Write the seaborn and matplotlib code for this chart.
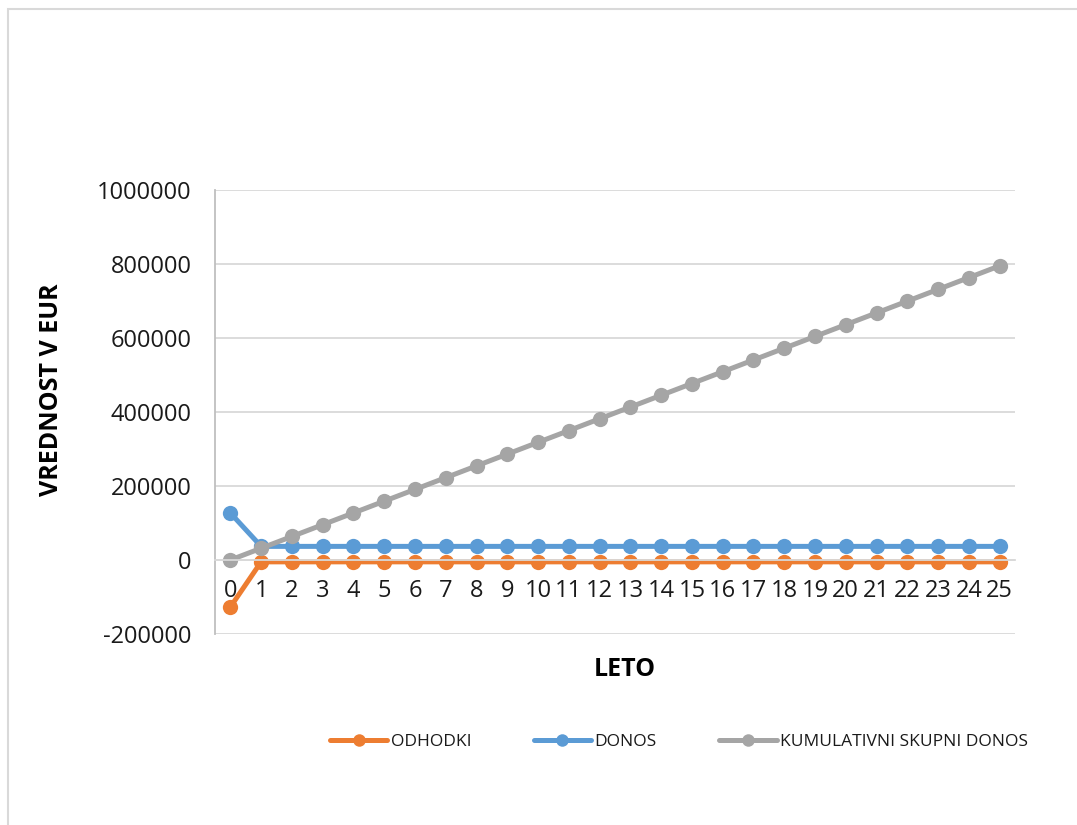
import matplotlib
matplotlib.use("Agg")
import matplotlib.pyplot as plt
import seaborn as sns
import pandas as pd
from matplotlib.lines import Line2D
from matplotlib.patches import Rectangle

years = [0, 1, 2, 3, 4, 5, 6, 7, 8, 9, 10, 11, 12, 13, 14, 15, 16, 17, 18, 19, 20, 21, 22, 23, 24, 25]
odhodki = [-127000, -5000, -5000, -5000, -5000, -5000, -5000, -5000, -5000, -5000, -5000, -5000, -5000,
           -5000, -5000, -5000, -5000, -5000, -5000, -5000, -5000, -5000, -5000, -5000, -5000, -5000]
donos = [127000, 36800, 36800, 36800, 36800, 36800, 36800, 36800, 36800, 36800, 36800, 36800, 36800,
         36800, 36800, 36800, 36800, 36800, 36800, 36800, 36800, 36800, 36800, 36800, 36800, 36800]
kumulativni = [0, 31800, 63600, 95400, 127200, 159000, 190800, 222600, 254400, 286200, 318000, 349800,
               381600, 413400, 445200, 477000, 508800, 540600, 572400, 604200, 636000, 667800, 699600,
               731400, 763200, 795000]
series_names = ["ODHODKI", "DONOS", "KUMULATIVNI SKUPNI DONOS"]
colors = ["#ED7D31", "#5B9BD5", "#A5A5A5"]
y_ticks = [-200000, 0, 200000, 400000, 600000, 800000, 1000000]

rows = []
for name, vals in zip(series_names, [odhodki, donos, kumulativni]):
    for x, v in zip(years, vals):
        rows.append({"Leto": x, "Vrednost": v, "Serija": name})
df = pd.DataFrame(rows)

sns.set_style("white")
plt.rcParams["font.family"] = ["Open Sans", "DejaVu Sans"]

fig = plt.figure(figsize=(10.77, 8.25), dpi=100)
ax = fig.add_axes([215 / 1077, 1 - 634 / 825, 800 / 1077, 444 / 825])

sns.lineplot(data=df, x="Leto", y="Vrednost", hue="Serija", hue_order=series_names,
             palette=colors, marker="o", markersize=11, markeredgewidth=0, linewidth=3.6,
             ax=ax, legend=False)

ax.set_xlim(-0.5, 25.5)
ax.set_ylim(-200000, 1000000)
ax.set_yticks(y_ticks)
ax.set_yticklabels([str(t) for t in y_ticks])
ax.set_xticks(years)
ax.set_xticklabels([str(y) for y in years])
ax.yaxis.grid(True, color="#D9D9D9", linewidth=1.3)
ax.set_axisbelow(True)

for s in ["top", "right"]:
    ax.spines[s].set_visible(False)
ax.spines["left"].set_color("#BFBFBF")
ax.spines["left"].set_linewidth(1.3)
ax.spines["bottom"].set_position(("data", 0))
ax.spines["bottom"].set_color("#D9D9D9")
ax.spines["bottom"].set_linewidth(1.3)
ax.tick_params(axis="both", length=0, labelsize=17, colors="#1A1A1A")
ax.tick_params(axis="x", pad=14)
ax.tick_params(axis="y", pad=17)

ax.set_xlabel("")
ax.set_ylabel("")
fig.text(52 / 1077, 1 - 390 / 825, "VREDNOST V EUR", rotation=90, ha="center", va="center",
         fontsize=18, fontweight="bold", color="#000000")
fig.text(625 / 1077, 1 - 670 / 825, "LETO", ha="center", va="center",
         fontsize=18, fontweight="bold", color="#000000")

handles = [Line2D([0], [0], color=c, linewidth=3.6, marker="o", markersize=9, markeredgewidth=0)
           for c in colors]
fig.legend(handles, series_names, loc="center", bbox_to_anchor=(679 / 1077, 1 - 742 / 825),
           ncol=3, frameon=False, fontsize=12.5, handlelength=3.3, columnspacing=3.6,
           handletextpad=0.2, labelcolor="#1A1A1A")

fig.patches.append(Rectangle((8 / 1077, -0.05), 1.2, 1.05 - 9 / 825, transform=fig.transFigure,
                             fill=False, edgecolor="#D9D9D9", linewidth=1.5))

fig.savefig("out.png", dpi=100)
